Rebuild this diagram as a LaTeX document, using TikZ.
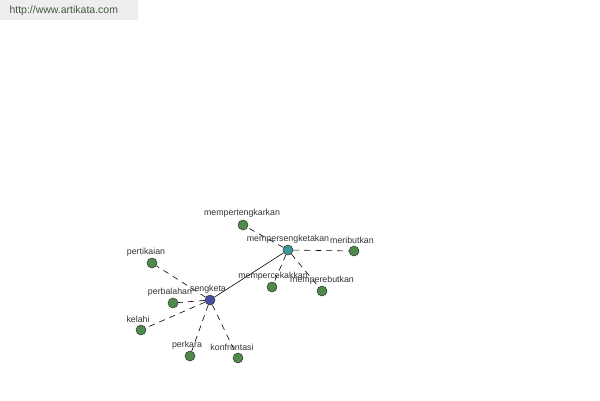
\documentclass[tikz,border=0pt]{standalone}
\usepackage{fontspec}
\setmainfont{Liberation Sans}
\definecolor{leafgreen}{HTML}{4E8A4A}
\definecolor{hubblue}{HTML}{4B4FA3}
\definecolor{hubteal}{HTML}{3E9696}
\definecolor{labelgray}{HTML}{333333}
\definecolor{bargray}{HTML}{EEEEEE}
\definecolor{urlgreen}{HTML}{3F5A3A}
\tikzset{
  word/.style={circle,draw=black!80,line width=0.5pt,minimum size=10pt,inner sep=0pt,fill=leafgreen},
  wordlabel/.style={font=\fontsize{8.8}{9}\selectfont,text=labelgray,inner sep=1pt},
  link/.style={line width=0.6pt,dash pattern=on 6pt off 5pt}
}
\begin{document}
\begin{tikzpicture}[x=1pt,y=-1pt]
  \useasboundingbox (0,0) rectangle (600,400);
  \fill[white] (0,0) rectangle (600,400);

  % kotak alamat di pojok kiri atas
  \fill[bargray] (0,0) rectangle (138,20);
  \node[anchor=west,font=\fontsize{10.5}{11}\selectfont,text=urlgreen] (url) at (6,11) {http://www.artikata.com};

  % simpul pusat
  \node[word,fill=hubblue] (sengketa) at (210,300) {};
  \node[word,fill=hubteal] (mempersengketakan) at (288,250) {};

  % kata di sekitar sengketa
  \node[word] (pertikaian) at (152,263) {};
  \node[word] (perbalahan) at (173,303) {};
  \node[word] (kelahi) at (141,330) {};
  \node[word] (perkara) at (190,356) {};
  \node[word] (konfrontasi) at (238,358) {};

  % kata di sekitar mempersengketakan
  \node[word] (mempertengkarkan) at (243,225) {};
  \node[word] (meributkan) at (354,251) {};
  \node[word] (mempercekakkan) at (272,287) {};
  \node[word] (memperebutkan) at (322,291) {};

  % garis penghubung
  \draw[line width=0.6pt] (sengketa) -- (mempersengketakan);
  \foreach \w in {pertikaian,perbalahan,kelahi,perkara,konfrontasi}
    \draw[link] (sengketa) -- (\w);
  \foreach \w in {mempertengkarkan,meributkan,mempercekakkan,memperebutkan}
    \draw[link] (mempersengketakan) -- (\w);

  % label
  \node[wordlabel] at (208,289) {sengketa};
  \node[wordlabel] at (288,239) {mempersengketakan};
  \node[wordlabel] at (146,252) {pertikaian};
  \node[wordlabel] at (170,292) {perbalahan};
  \node[wordlabel] at (138,319) {kelahi};
  \node[wordlabel] at (187,345) {perkara};
  \node[wordlabel] at (232,347) {konfrontasi};
  \node[wordlabel] at (242,213) {mempertengkarkan};
  \node[wordlabel] at (352,240) {meributkan};
  \node[wordlabel] at (273,276) {mempercekakkan};
  \node[wordlabel] at (322,280) {memperebutkan};
\end{tikzpicture}
\end{document}
